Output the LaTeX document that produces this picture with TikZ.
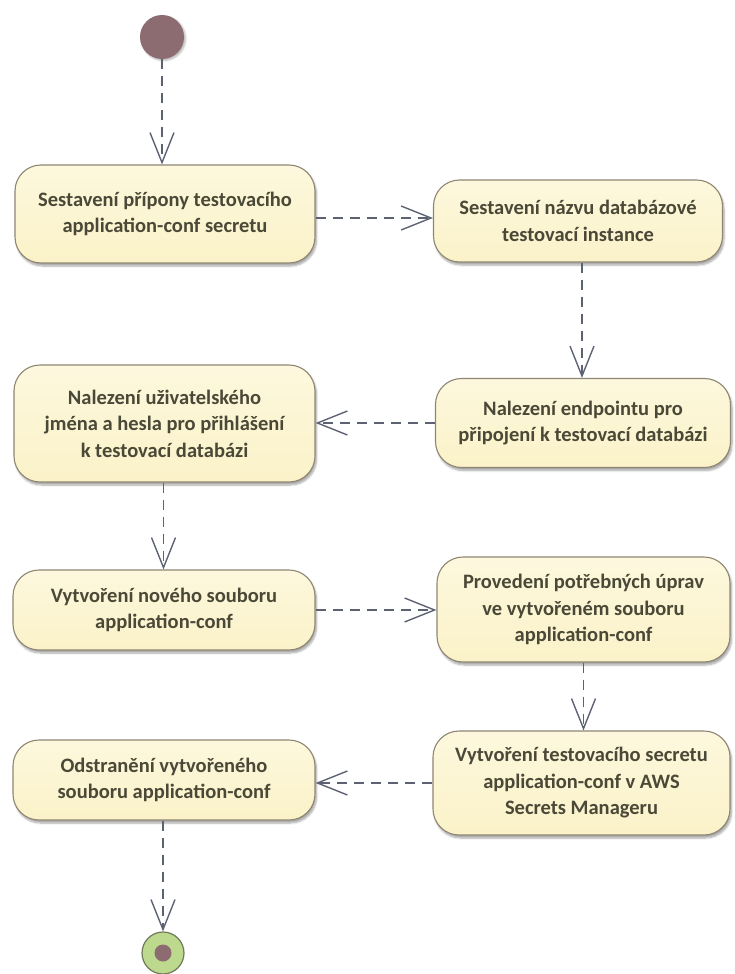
\documentclass[tikz,border=0pt]{standalone}
\usepackage{fontspec}
\setmainfont{Carlito}
\usetikzlibrary{arrows.meta,shadows.blur,calc}
\definecolor{boxfill}{HTML}{FBF2C8}
\definecolor{boxfilltop}{HTML}{FDF8DE}
\definecolor{boxline}{HTML}{8E8672}
\definecolor{txt}{HTML}{4A4837}
\definecolor{flow}{HTML}{5C6272}
\definecolor{startfill}{HTML}{8C6C70}
\definecolor{endfill}{HTML}{BCD98E}
\definecolor{endline}{HTML}{6E7A5A}
\tikzset{
  activity/.style={draw=boxline, line width=1.1pt, rounded corners=26pt,
    top color=boxfilltop, bottom color=boxfill,
    blur shadow={shadow xshift=1.5pt, shadow yshift=-3pt, shadow blur steps=6, shadow opacity=35},
    text=txt, font=\bfseries\fontsize{20.5}{26.5}\selectfont, align=center,
    inner sep=0pt},
  flowarrow/.style={draw=flow, line width=1.4pt, dash pattern=on 10pt off 7pt,
    -{Straight Barb[length=30pt,width=24pt,line width=1.4pt]}},
  initial/.style={circle, fill=startfill, minimum size=44pt, inner sep=0pt,
    blur shadow={shadow xshift=1.5pt, shadow yshift=-1.5pt, shadow blur steps=4, shadow opacity=30}},
  final/.style={circle, draw=endline, line width=1.2pt, fill=endfill, minimum size=42pt, inner sep=0pt},
  finaldot/.style={circle, fill=startfill, minimum size=17pt, inner sep=0pt}
}
\begin{document}
\begin{tikzpicture}[x=1pt, y=-1pt]
  \useasboundingbox (0,0) rectangle (734,974);

  \node[initial] (start) at (162,37) {};

  \node[activity, minimum width=300pt, minimum height=98pt] (b1) at (165,214)
    {Sestavení přípony testovacího\\application-conf secretu};
  \node[activity, minimum width=289pt, minimum height=82pt] (b2) at (578,221)
    {Sestavení názvu databázové\\testovací instance};
  \node[activity, minimum width=295pt, minimum height=89pt] (b3) at (583,423)
    {Nalezení endpointu pro\\připojení k testovací databázi};
  \node[activity, minimum width=301pt, minimum height=117pt] (b4) at (164.5,423.5)
    {Nalezení uživatelského\\jména a hesla pro přihlášení\\k testovací databázi};
  \node[activity, minimum width=302pt, minimum height=80pt] (b5) at (164,610)
    {Vytvoření nového souboru\\application-conf};
  \node[activity, minimum width=293pt, minimum height=105pt] (b6) at (583.5,609.5)
    {Provedení potřebných úprav\\ve vytvořeném souboru\\application-conf};
  \node[activity, minimum width=297pt, minimum height=104pt] (b7) at (581.5,783)
    {Vytvoření testovacího secretu\\application-conf v AWS\\Secrets Manageru};
  \node[activity, minimum width=302pt, minimum height=80pt] (b8) at (164,780)
    {Odstranění vytvořeného\\souboru application-conf};

  \node[final] (end) at (163,953) {};
  \node[finaldot] (enddot) at (end) {};

  % attachment points of the control flows
  \coordinate (f12) at ($(b1.east)+(0,4)$);
  \coordinate (f23) at ($(b2.south)+(4,0)$);
  \coordinate (f45) at ($(b4.south)+(-1,0)$);
  \coordinate (f8e) at ($(b8.south)+(-1,0)$);

  % control flow
  \draw[flowarrow] (start.south) -- (start.south |- b1.north);
  \draw[flowarrow] (f12) -- (f12 -| b2.west);
  \draw[flowarrow] (f23) -- (f23 |- b3.north);
  \draw[flowarrow] (b3.west) -- (b3.west -| b4.east);
  \draw[flowarrow] (f45) -- (f45 |- b5.north);
  \draw[flowarrow] (b5.east) -- (b5.east -| b6.west);
  \draw[flowarrow] (b6.south) -- (b6.south |- b7.north);
  \draw[flowarrow] (b7.west) -- (b7.west -| b8.east);
  \draw[flowarrow] (f8e) -- (f8e |- end.north);
\end{tikzpicture}
\end{document}
